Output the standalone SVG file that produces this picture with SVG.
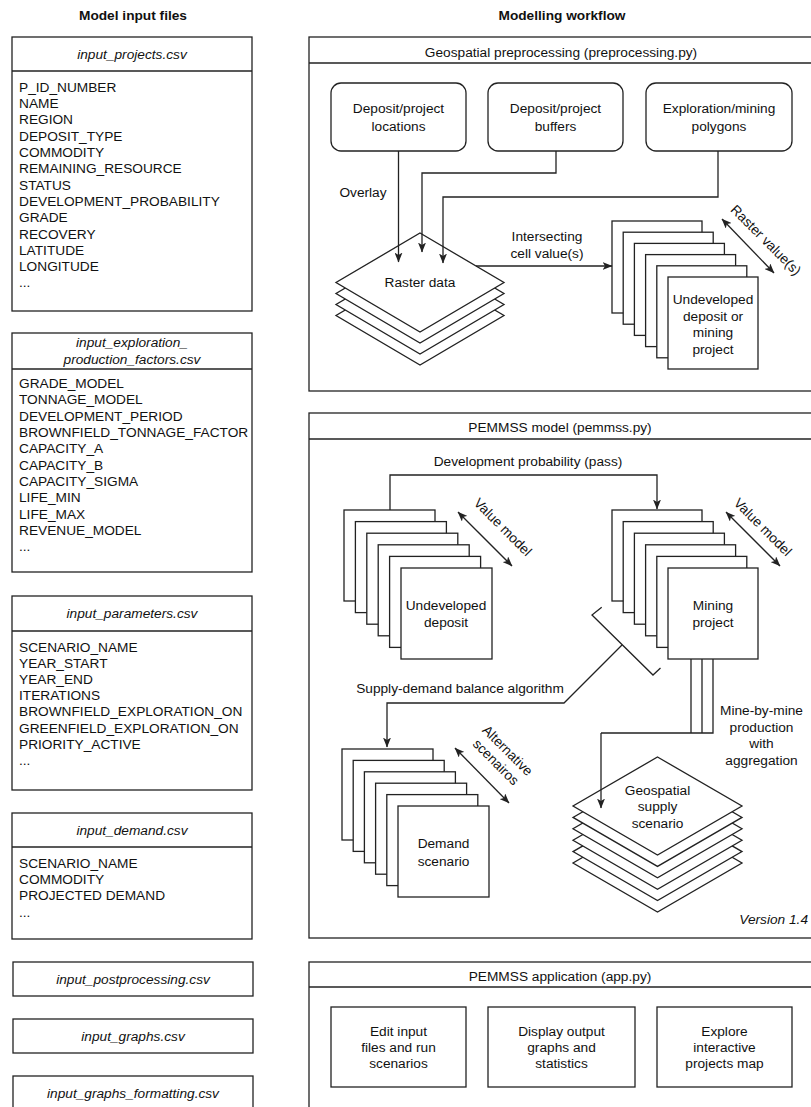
<svg xmlns="http://www.w3.org/2000/svg" width="811" height="1107" viewBox="0 0 811 1107">
<style>
.t{font-family:"Liberation Sans",Arial,sans-serif;font-size:13.7px;fill:#111}
.c{text-anchor:middle}
.e{text-anchor:end}
.i{font-style:italic}
.b{font-weight:bold}
.s{fill:#fff;stroke:#222;stroke-width:1.3}
.l{fill:none;stroke:#222;stroke-width:1.3}
.a{marker-end:url(#ah)}
.d{marker-start:url(#ah);marker-end:url(#ah)}
</style>
<defs>
<marker id="ah" viewBox="0 0 10 8" refX="9.5" refY="4" markerWidth="10" markerHeight="8" markerUnits="userSpaceOnUse" orient="auto-start-reverse"><path d="M0,0 L10,4 L0,8 L2.5,4 z" fill="#222"/></marker>
</defs>
<rect width="811" height="1107" fill="#fff"/>

<text class="t b c" x="133" y="20">Model input files</text>
<text class="t b c" x="562" y="20">Modelling workflow</text>

<g id="input_projects">
<rect class="s" x="12" y="37" width="240" height="274"/>
<line class="l" x1="12" y1="71" x2="252" y2="71"/>
<text class="t i c" x="132" y="59">input_projects.csv</text>
<text class="t" x="19"><tspan x="19" y="91.8">P_ID_NUMBER</tspan><tspan x="19" y="108.1">NAME</tspan><tspan x="19" y="124.4">REGION</tspan><tspan x="19" y="140.7">DEPOSIT_TYPE</tspan><tspan x="19" y="157">COMMODITY</tspan><tspan x="19" y="173.3">REMAINING_RESOURCE</tspan><tspan x="19" y="189.6">STATUS</tspan><tspan x="19" y="205.9">DEVELOPMENT_PROBABILITY</tspan><tspan x="19" y="222.2">GRADE</tspan><tspan x="19" y="238.5">RECOVERY</tspan><tspan x="19" y="254.8">LATITUDE</tspan><tspan x="19" y="271.1">LONGITUDE</tspan><tspan x="19" y="287.4">...</tspan></text>
</g>

<g id="input_exploration">
<rect class="s" x="12" y="333" width="240" height="239"/>
<line class="l" x1="12" y1="369" x2="252" y2="369"/>
<text class="t i c" x="132"><tspan x="132" y="346.5">input_exploration_</tspan><tspan x="132" y="364">production_factors.csv</tspan></text>
<text class="t" x="19"><tspan x="19" y="388.1">GRADE_MODEL</tspan><tspan x="19" y="404.4">TONNAGE_MODEL</tspan><tspan x="19" y="420.7">DEVELOPMENT_PERIOD</tspan><tspan x="19" y="437">BROWNFIELD_TONNAGE_FACTOR</tspan><tspan x="19" y="453.3">CAPACITY_A</tspan><tspan x="19" y="469.6">CAPACITY_B</tspan><tspan x="19" y="485.9">CAPACITY_SIGMA</tspan><tspan x="19" y="502.2">LIFE_MIN</tspan><tspan x="19" y="518.5">LIFE_MAX</tspan><tspan x="19" y="534.8">REVENUE_MODEL</tspan><tspan x="19" y="551.1">...</tspan></text>
</g>

<g id="input_parameters">
<rect class="s" x="12" y="596" width="240" height="194"/>
<line class="l" x1="12" y1="631" x2="252" y2="631"/>
<text class="t i c" x="132" y="618.3">input_parameters.csv</text>
<text class="t" x="19"><tspan x="19" y="651.5">SCENARIO_NAME</tspan><tspan x="19" y="667.7">YEAR_START</tspan><tspan x="19" y="683.9">YEAR_END</tspan><tspan x="19" y="700.1">ITERATIONS</tspan><tspan x="19" y="716.3">BROWNFIELD_EXPLORATION_ON</tspan><tspan x="19" y="732.5">GREENFIELD_EXPLORATION_ON</tspan><tspan x="19" y="748.7">PRIORITY_ACTIVE</tspan><tspan x="19" y="764.9">...</tspan></text>
</g>

<g id="input_demand">
<rect class="s" x="12" y="813" width="240" height="126"/>
<line class="l" x1="12" y1="847" x2="252" y2="847"/>
<text class="t i c" x="132" y="834.8">input_demand.csv</text>
<text class="t" x="19"><tspan x="19" y="868">SCENARIO_NAME</tspan><tspan x="19" y="884.2">COMMODITY</tspan><tspan x="19" y="900.4">PROJECTED DEMAND</tspan><tspan x="19" y="916.6">...</tspan></text>
</g>

<g id="input_postprocessing">
<rect class="s" x="13" y="962" width="240" height="34"/>
<text class="t i c" x="133" y="983.8">input_postprocessing.csv</text>
</g>
<g id="input_graphs">
<rect class="s" x="13" y="1019" width="240" height="34"/>
<text class="t i c" x="133" y="1040.8">input_graphs.csv</text>
</g>
<g id="input_graphs_formatting">
<rect class="s" x="13" y="1076" width="240" height="34"/>
<text class="t i c" x="133" y="1097.5">input_graphs_formatting.csv</text>
</g>

<g id="preprocessing">
<rect class="s" x="309" y="37" width="504" height="354"/>
<line class="l" x1="309" y1="63" x2="813" y2="63"/>
<text class="t c" x="561" y="57">Geospatial preprocessing (preprocessing.py)</text>
</g>

<g id="locations">
<rect class="s" x="331" y="83" width="135" height="68" rx="10"/>
<text class="t c" x="398.5"><tspan x="398.5" y="113">Deposit/project</tspan><tspan x="398.5" y="131">locations</tspan></text>
</g>
<g id="buffers">
<rect class="s" x="488" y="83" width="135" height="68" rx="10"/>
<text class="t c" x="555.5"><tspan x="555.5" y="113">Deposit/project</tspan><tspan x="555.5" y="131">buffers</tspan></text>
</g>
<g id="polygons">
<rect class="s" x="646" y="83" width="146" height="68" rx="10"/>
<text class="t c" x="719"><tspan x="719" y="113">Exploration/mining</tspan><tspan x="719" y="131">polygons</tspan></text>
</g>

<g id="raster">
<polygon class="s" points="420,266 504,315.5 420,365 336,315.5"/>
<polygon class="s" points="420,255 504,304.5 420,354 336,304.5"/>
<polygon class="s" points="420,244 504,293.5 420,343 336,293.5"/>
<polygon class="s" points="420,233 504,282.5 420,332 336,282.5"/>
<text class="t c" x="420" y="287.3">Raster data</text>
</g>

<g id="preproc_projects">
<rect class="s" x="612" y="221" width="90" height="92"/>
<rect class="s" x="623.2" y="232.2" width="90" height="92"/>
<rect class="s" x="634.4" y="243.4" width="90" height="92"/>
<rect class="s" x="645.6" y="254.6" width="90" height="92"/>
<rect class="s" x="656.8" y="265.8" width="90" height="92"/>
<rect class="s" x="668" y="277" width="90" height="92"/>
<text class="t c" x="713"><tspan x="713" y="304">Undeveloped</tspan><tspan x="713" y="320.5">deposit or</tspan><tspan x="713" y="337">mining</tspan><tspan x="713" y="353.5">project</tspan></text>
</g>

<g id="pemmss">
<rect class="s" x="309" y="413" width="504" height="525"/>
<line class="l" x1="309" y1="439" x2="813" y2="439"/>
<text class="t c" x="560" y="432">PEMMSS model (pemmss.py)</text>
</g>

<g id="undeveloped">
<rect class="s" x="344" y="510" width="91" height="91"/>
<rect class="s" x="355.4" y="521.6" width="91" height="91"/>
<rect class="s" x="366.8" y="533.2" width="91" height="91"/>
<rect class="s" x="378.2" y="544.8" width="91" height="91"/>
<rect class="s" x="389.6" y="556.4" width="91" height="91"/>
<rect class="s" x="401" y="568" width="91" height="91"/>
<text class="t c" x="446"><tspan x="446" y="609.8">Undeveloped</tspan><tspan x="446" y="626.8">deposit</tspan></text>
</g>

<g id="mining">
<rect class="s" x="612" y="510" width="90" height="91"/>
<rect class="s" x="623.2" y="521.6" width="90" height="91"/>
<rect class="s" x="634.4" y="533.2" width="90" height="91"/>
<rect class="s" x="645.6" y="544.8" width="90" height="91"/>
<rect class="s" x="656.8" y="556.4" width="90" height="91"/>
<rect class="s" x="668" y="568" width="90" height="91"/>
<text class="t c" x="713"><tspan x="713" y="609.8">Mining</tspan><tspan x="713" y="626.8">project</tspan></text>
</g>

<g id="demand">
<rect class="s" x="342" y="749" width="91" height="91"/>
<rect class="s" x="353.2" y="760.4" width="91" height="91"/>
<rect class="s" x="364.4" y="771.8" width="91" height="91"/>
<rect class="s" x="375.6" y="783.2" width="91" height="91"/>
<rect class="s" x="386.8" y="794.6" width="91" height="91"/>
<rect class="s" x="398" y="806" width="91" height="91"/>
<text class="t c" x="443.5"><tspan x="443.5" y="847.8">Demand</tspan><tspan x="443.5" y="865.8">scenario</tspan></text>
</g>

<g id="supply">
<polygon class="s" points="657.5,814 742,863 657.5,912 573,863"/>
<polygon class="s" points="657.5,802.6 742,851.6 657.5,900.6 573,851.6"/>
<polygon class="s" points="657.5,791.2 742,840.2 657.5,889.2 573,840.2"/>
<polygon class="s" points="657.5,779.8 742,828.8 657.5,877.8 573,828.8"/>
<polygon class="s" points="657.5,768.4 742,817.4 657.5,866.4 573,817.4"/>
<polygon class="s" points="657.5,757 742,806 657.5,855 573,806"/>
<text class="t c" x="657.5"><tspan x="657.5" y="794.8">Geospatial</tspan><tspan x="657.5" y="811.3">supply</tspan><tspan x="657.5" y="827.8">scenario</tspan></text>
</g>

<text class="t i e" x="808" y="924">Version 1.4</text>

<g id="app">
<rect class="s" x="309" y="962" width="504" height="160"/>
<line class="l" x1="309" y1="987" x2="813" y2="987"/>
<text class="t c" x="560" y="981">PEMMSS application (app.py)</text>
</g>
<g id="edit">
<rect class="s" x="331" y="1007" width="135" height="80"/>
<text class="t c" x="398.5"><tspan x="398.5" y="1036">Edit input</tspan><tspan x="398.5" y="1052">files and run</tspan><tspan x="398.5" y="1068">scenarios</tspan></text>
</g>
<g id="display">
<rect class="s" x="488" y="1007" width="147" height="80"/>
<text class="t c" x="561.5"><tspan x="561.5" y="1036">Display output</tspan><tspan x="561.5" y="1052">graphs and</tspan><tspan x="561.5" y="1068">statistics</tspan></text>
</g>
<g id="explore">
<rect class="s" x="657" y="1007" width="135" height="80"/>
<text class="t c" x="724.5"><tspan x="724.5" y="1036">Explore</tspan><tspan x="724.5" y="1052">interactive</tspan><tspan x="724.5" y="1068">projects map</tspan></text>
</g>

<g id="connectors">
<path class="l a" d="M398.5,151 V262"/>
<path class="l a" d="M556,151 V173 H422 V252"/>
<path class="l a" d="M718,151 V197 H443 V263"/>
<text class="t c" x="363" y="197">Overlay</text>
<path class="l a" d="M476,266 H612"/>
<text class="t c" x="547"><tspan x="547" y="241">Intersecting</tspan><tspan x="547" y="258">cell value(s)</tspan></text>
<path class="l d" d="M722,219 L774,273"/>
<text class="t c" transform="translate(766,240) rotate(45)" x="0" y="4.8">Raster value(s)</text>

<path class="l a" d="M390,510 V475 H657 V509"/>
<text class="t c" x="528" y="466">Development probability (pass)</text>
<path class="l d" d="M458,512 L512,566"/>
<text class="t c" transform="translate(503,527) rotate(45)" x="0" y="4.8">Value model</text>
<path class="l d" d="M726,512 L780,566"/>
<text class="t c" transform="translate(763,527) rotate(45)" x="0" y="4.8">Value model</text>

<path class="l" d="M601.7,607.3 L592,615 L653,675 L660.5,668"/>
<path class="l a" d="M622,645 L564,703 H387 V747"/>
<text class="t c" x="460" y="693">Supply-demand balance algorithm</text>
<path class="l d" d="M455,748 L509,803"/>
<text class="t c" transform="translate(502,756) rotate(45)"><tspan x="0" y="-3.2">Alternative</tspan><tspan x="0" y="13.3">scenairos</tspan></text>

<path class="l" d="M691,659 V733 M702,659 V733 M713,659 V733 H601"/>
<path class="l a" d="M601,733 V808"/>
<text class="t c" x="761.5"><tspan x="761.5" y="715">Mine-by-mine</tspan><tspan x="761.5" y="731.5">production</tspan><tspan x="761.5" y="748">with</tspan><tspan x="761.5" y="764.5">aggregation</tspan></text>
</g>
</svg>
